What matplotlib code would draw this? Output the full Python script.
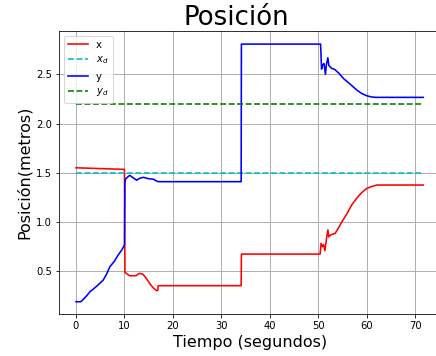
import matplotlib
matplotlib.use("Agg")
import matplotlib.pyplot as plt

# Red series: x position
t_x = [0, 5, 10.0, 10.1, 10.6, 11.1, 12.4, 13.1, 13.8, 14.5, 15.3, 16.0, 16.6, 16.9, 16.95,
       34.1, 34.15, 50.4, 50.6, 50.9, 51.1, 51.4, 51.8, 52.0, 52.2, 52.6, 53.5, 54.2, 54.9,
       56.0, 56.9, 58.0, 59.0, 60.0, 61.0, 62.1, 71.7]
x_vals = [1.551, 1.543, 1.535, 0.49, 0.47, 0.455, 0.455, 0.48, 0.47, 0.43, 0.37, 0.33, 0.305, 0.305, 0.354,
          0.354, 0.675, 0.675, 0.784, 0.75, 0.77, 0.71, 0.86, 0.92, 0.85, 0.87, 0.885, 0.94, 1.003,
          1.09, 1.172, 1.245, 1.30, 1.34, 1.36, 1.376, 1.376]

# Blue series: y position
t_y = [0, 1.0, 2.0, 2.9, 4.3, 5.6, 6.3, 7.0, 7.9, 8.7, 9.5, 10.0, 10.1, 10.25, 11.1, 11.8, 12.5,
       13.2, 13.9, 15.0, 16.0, 16.3, 17.0, 34.1, 34.15, 50.5, 50.7, 50.9, 51.2, 51.5, 51.7, 52.0,
       52.2, 52.8, 53.4, 54.3, 55.2, 56.6, 58.0, 59.0, 60.0, 61.0, 62.0, 71.7]
y_vals = [0.191, 0.191, 0.24, 0.293, 0.35, 0.41, 0.47, 0.547, 0.60, 0.665, 0.72, 0.767, 1.40, 1.44,
          1.475, 1.45, 1.425, 1.445, 1.454, 1.44, 1.435, 1.425, 1.41, 1.41, 2.807, 2.807, 2.553,
          2.594, 2.61, 2.50, 2.60, 2.668, 2.59, 2.56, 2.55, 2.51, 2.459, 2.40, 2.34, 2.305, 2.283,
          2.27, 2.266, 2.266]

# References
t_ref = [0, 71.5]
xd_vals = [1.5, 1.5]
yd_vals = [2.2, 2.2]

W, H = 436, 356
fig = plt.figure(figsize=(W / 72, H / 72), dpi=72)
ax = fig.add_axes([59 / W, 42 / H, (440.7 - 59) / W, (314 - 30.7) / H])

ax.plot(t_x, x_vals, color='r', lw=1.6, label='x')
ax.plot(t_ref, xd_vals, color='c', ls='--', lw=1.6, label='$x_d$')
ax.plot(t_y, y_vals, color='b', lw=1.6, label='y')
ax.plot(t_ref, yd_vals, color='g', ls='--', lw=1.6, label='$y_d$')

ax.set_xlim(-3.51, 75.3)
ax.set_ylim(0.0665, 2.943)
ax.set_xticks([0, 10, 20, 30, 40, 50, 60, 70])
ax.set_yticks([0.5, 1.0, 1.5, 2.0, 2.5])
ax.tick_params(labelsize=10)
ax.grid(True, color='#b0b0b0', lw=1)
ax.set_title('Posición', fontsize=26, x=0.465)
ax.set_xlabel('Tiempo (segundos)', fontsize=16)
ax.set_ylabel('Posición(metros)', fontsize=16)
ax.legend(loc='upper left', fontsize=10)

fig.savefig('out.png', dpi=72)
